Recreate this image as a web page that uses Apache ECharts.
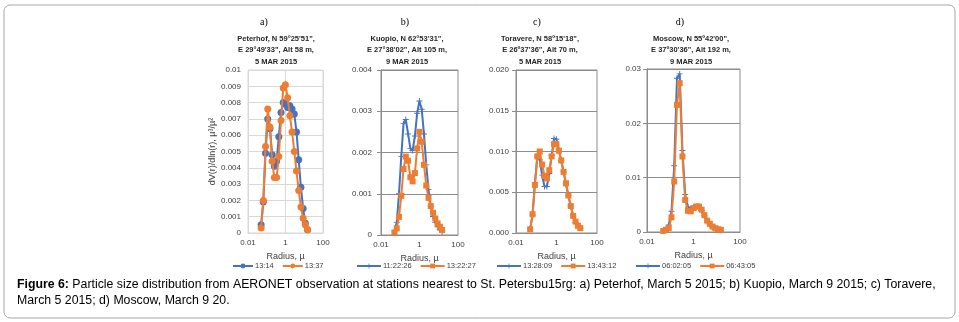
<!DOCTYPE html>
<html><head><meta charset="utf-8">
<script src="https://cdn.jsdelivr.net/npm/echarts@6/dist/echarts.min.js"></script>
<style>html,body{margin:0;padding:0;background:#fff}#c{width:959px;height:322px}</style>
</head><body><div id="c"></div>
<script>
// AERONET radius bins (µm)
const radii = [0.05, 0.065604, 0.086077, 0.112939, 0.148184, 0.194429, 0.255105, 0.334716, 0.439173, 0.576227, 0.756052, 0.991996, 1.301571, 1.707757, 2.240702, 2.939966, 3.857452, 5.061260, 6.640745, 8.713145, 11.432287, 15.0];

const peterhofA = [0.0005, 0.0019, 0.0049, 0.0070, 0.0064, 0.0048, 0.0041, 0.0044, 0.0059, 0.0074, 0.0080, 0.0079, 0.0077, 0.0078, 0.0076, 0.0073, 0.0062, 0.0045, 0.0028, 0.0015, 0.0006, 0.0002];
const peterhofB = [0.0003, 0.0020, 0.0053, 0.0076, 0.0065, 0.0044, 0.0034, 0.0034, 0.0047, 0.0069, 0.0089, 0.0091, 0.0083, 0.0072, 0.0062, 0.0050, 0.0038, 0.0026, 0.0016, 0.0009, 0.0005, 0.0002];

const kuopioA = [0.0001, 0.0003, 0.0010, 0.0019, 0.0027, 0.0028, 0.00245, 0.0021, 0.00205, 0.0024, 0.00295, 0.00325, 0.00305, 0.00245, 0.0017, 0.0011, 0.0007, 0.00045, 0.0003, 0.0002, 0.00012, 0.00008];
const kuopioB = [0.00006, 0.00016, 0.00044, 0.00095, 0.0016, 0.0019, 0.0018, 0.0014, 0.0013, 0.0015, 0.0021, 0.0025, 0.00226, 0.0017, 0.0012, 0.0009, 0.0007, 0.00054, 0.0004, 0.00028, 0.0002, 0.00012];

const toravereA = [0.0005, 0.0022, 0.0062, 0.0093, 0.0090, 0.0071, 0.0057, 0.0057, 0.0073, 0.0095, 0.0116, 0.0115, 0.0102, 0.0089, 0.0075, 0.0060, 0.0046, 0.0033, 0.0021, 0.0013, 0.0009, 0.0006];
const toravereB = [0.00045, 0.0023, 0.0059, 0.0094, 0.0100, 0.0084, 0.0070, 0.0067, 0.0077, 0.0094, 0.0109, 0.0109, 0.0101, 0.0089, 0.0075, 0.0061, 0.0046, 0.0033, 0.0021, 0.0014, 0.0009, 0.0006];

const moscowA = [0.0002, 0.0005, 0.0013, 0.0038, 0.0122, 0.0283, 0.0291, 0.0150, 0.0069, 0.0046, 0.0043, 0.0043, 0.0045, 0.0044, 0.0039, 0.0030, 0.0020, 0.0014, 0.0009, 0.0006, 0.0004, 0.0003];
const moscowB = [0.0002, 0.0004, 0.0007, 0.0027, 0.0093, 0.0234, 0.0274, 0.0139, 0.0059, 0.0039, 0.0038, 0.0044, 0.0047, 0.0047, 0.0041, 0.0031, 0.0021, 0.0015, 0.0010, 0.0007, 0.0005, 0.0004];

const seriesNames = [["13:14", "13:37"], ["11:22:26", "13:22:27"], ["13:28:09", "13:43:12"], ["06:02:05", "06:43:05"]];
const panelLetters = ["a)", "b)", "c)", "d)"];
const panelTitles = [
  "Peterhof, N 59°25'51\",\nE 29°49'33\", Alt 58 m,\n5 MAR 2015",
  "Kuopio, N 62°53'31\",\nE 27°38'02\", Alt 105 m,\n9 MAR 2015",
  "Toravere, N 58º15'18\",\nE 26º37'36\", Alt 70 m,\n5 MAR 2015",
  "Moscow, N 55º42'00\",\nE 37º30'36\", Alt 192 m,\n9 MAR 2015"
];
const xTicks = [0.01, 1, 100];
const yMax = [0.01, 0.004, 0.020, 0.03];
const yStep = [0.001, 0.001, 0.005, 0.01];
const yDecimals = [null, null, 3, null];
const caption1 = " Particle size distribution from AERONET observation at stations nearest to St. Petersbu15rg: a) Peterhof, March 5 2015; b) Kuopio, March 9 2015; c) Toravere,";
const caption2 = "March 5 2015; d) Moscow, March 9 20.";

const values = [[peterhofA, peterhofB], [kuopioA, kuopioB], [toravereA, toravereB], [moscowA, moscowB]];

// layout
const grids = [
  {left: 248, top: 70, width: 75, height: 163},
  {left: 381, top: 70, width: 77, height: 165},
  {left: 516, top: 70, width: 81, height: 163},
  {left: 647, top: 69, width: 93, height: 163}
];
const letterX = [264, 405, 537, 680];
const titleX = [276, 407, 540, 691];
const legendLeft = [232, 356, 496, 635];
const legendTop = [262, 262, 262, 262];
const legendItemW = [20, 24, 24, 24];
const labelMargin = [7, 9, 7, 6];

const BLUE = '#4472C4', ORANGE = '#ED7D31';
const FONT = '"Liberation Sans", Arial, sans-serif';
const plusPath = 'path://M-0.8,-5 L0.8,-5 L0.8,-0.8 L5,-0.8 L5,0.8 L0.8,0.8 L0.8,5 L-0.8,5 L-0.8,0.8 L-5,0.8 L-5,-0.8 L-0.8,-0.8Z';

const option = {
  animation: false,
  backgroundColor: '#fff',
  grid: [], xAxis: [], yAxis: [], series: [], legend: [], graphic: []
};

for (let i = 0; i < 4; i++) {
  const light = i === 0;
  const lineCol = light ? '#d9d9d9' : '#8c8c8c';
  option.grid.push(Object.assign({show: true, borderColor: lineCol, borderWidth: 1, backgroundColor: 'transparent'}, grids[i]));
  option.xAxis.push({
    type: 'log', logBase: 100, gridIndex: i, min: xTicks[0], max: xTicks[xTicks.length - 1],
    name: 'Radius, µ', nameLocation: 'middle', nameGap: 17,
    nameTextStyle: {fontFamily: FONT, fontSize: 9, color: '#404040'},
    axisLine: {show: true, lineStyle: {color: lineCol}},
    axisTick: {show: false},
    splitLine: {show: light, lineStyle: {color: lineCol}},
    minorTick: {show: false},
    axisLabel: {fontFamily: FONT, fontSize: 8, color: '#404040', margin: 6,
      formatter: v => { const t = xTicks.find(k => Math.abs(Math.log10(k) - Math.log10(v)) < 1e-6); return t !== undefined ? String(t) : ''; }}
  });
  const dec = yDecimals[i];
  option.yAxis.push({
    type: 'value', gridIndex: i, min: 0, max: yMax[i], interval: yStep[i],
    name: light ? 'dV(r)/dln(r), µ³/µ²' : '', nameLocation: 'middle', nameGap: 31,
    nameTextStyle: {fontFamily: FONT, fontSize: 9, color: '#404040'},
    axisLine: {show: true, lineStyle: {color: lineCol}},
    axisTick: {show: !light, length: 4, lineStyle: {color: lineCol}},
    splitLine: {show: true, lineStyle: {color: lineCol}},
    axisLabel: {fontFamily: FONT, fontSize: 8, color: '#404040', margin: labelMargin[i],
      formatter: v => dec !== null ? v.toFixed(dec) : String(parseFloat(v.toFixed(4)))}
  });
  for (let s = 0; s < 2; s++) {
    const col = s === 0 ? BLUE : ORANGE;
    let symbol, size;
    if (light) { symbol = 'circle'; size = 7; }
    else if (s === 0) { symbol = plusPath; size = 6; }
    else { symbol = 'rect'; size = 6; }
    option.series.push({
      type: 'line', name: seriesNames[i][s], xAxisIndex: i, yAxisIndex: i,
      data: radii.map((r, k) => [r, values[i][s][k]]),
      symbol: symbol, symbolSize: size, showSymbol: true,
      lineStyle: {color: col, width: 2}, itemStyle: {color: col},
      z: s === 0 ? 3 : 4
    });
  }
  option.legend.push({
    data: seriesNames[i], left: legendLeft[i], top: legendTop[i],
    textStyle: {fontFamily: FONT, fontSize: 7.5, color: '#404040', padding: [0, 0, 0, -3]},
    itemWidth: legendItemW[i], itemHeight: 6, itemGap: 8, padding: 0
  });
  option.graphic.push({
    type: 'text', x: letterX[i], y: 17,
    style: {text: panelLetters[i], fill: '#000', font: '10px "Liberation Serif", serif', align: 'center'}
  });
  option.graphic.push({
    type: 'text', x: titleX[i], y: 33,
    style: {text: panelTitles[i], fill: '#262626', font: 'bold 7.5px ' + FONT, align: 'center', verticalAlign: 'top', lineHeight: 11.5}
  });
}

option.graphic.push({
  type: 'rect', shape: {x: 4, y: 5, width: 951, height: 313, r: 6}, silent: true,
  style: {fill: 'none', stroke: '#a6a6a6', lineWidth: 1}
});
option.graphic.push({
  type: 'text', x: 17, y: 279,
  style: {text: '{b|Figure 6:}{n|' + caption1 + '}', rich: {
    b: {font: 'bold 12.3px "Liberation Sans", Arial, sans-serif', fill: '#000'},
    n: {font: '12.3px "Liberation Sans", Arial, sans-serif', fill: '#000'}}}
});
option.graphic.push({
  type: 'text', x: 17, y: 295,
  style: {text: caption2, font: '12.3px "Liberation Sans", Arial, sans-serif', fill: '#000'}
});

const chart = echarts.init(document.getElementById('c'), null, {renderer: 'canvas'});
chart.setOption(option);
</script></body></html>
